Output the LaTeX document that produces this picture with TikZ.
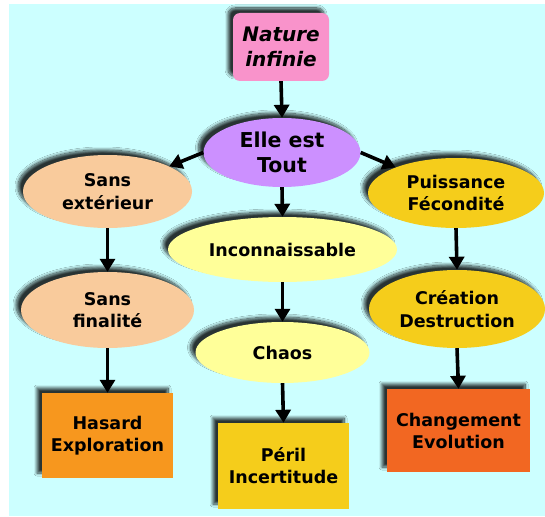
\documentclass[tikz,border=0pt]{standalone}
\usepackage{fontspec}
\setmainfont{DejaVu Sans}
\usetikzlibrary{shapes.geometric,arrows.meta,shadows,shadows.blur}
\definecolor{bgcyan}{HTML}{CCFFFF}
\definecolor{pinkc}{HTML}{F993CB}
\definecolor{lilac}{HTML}{CC90FF}
\definecolor{peach}{HTML}{F9CB9C}
\definecolor{gold}{HTML}{F5CD1B}
\definecolor{paleyel}{HTML}{FFFF99}
\definecolor{orangec}{HTML}{F7971E}
\definecolor{redor}{HTML}{F26722}
\tikzset{
  shad/.style={blur shadow={shadow xshift=-5pt,shadow yshift=5pt,shadow blur radius=3pt,shadow blur steps=12,shadow opacity=80}},
  ell/.style={ellipse,shad,inner sep=0pt,align=center,font=\fontsize{17.5}{22.5}\selectfont\bfseries},
  boxn/.style={rectangle,shad,inner sep=0pt,align=center,font=\fontsize{17.5}{22}\selectfont\bfseries},
  arr/.style={line width=3.6pt,-{Triangle[length=13pt,width=15pt]}}
}
\begin{document}
\begin{tikzpicture}[x=1pt,y=-1pt]
\useasboundingbox (0,0) rectangle (545,516);
\fill[bgcyan] (9,4) rectangle (545,516);
\node[boxn,rounded corners=7pt,fill=pinkc,minimum width=96pt,minimum height=68pt,font=\fontsize{20}{25}\selectfont\bfseries\itshape] (nat) at (281,47) {Nature\\infinie};
\node[ell,fill=lilac,minimum width=157pt,minimum height=69pt,font=\fontsize{20.5}{24.5}\selectfont\bfseries] (elle) at (282,152.5) {Elle est\\Tout};
\node[ell,fill=peach,minimum width=169pt,minimum height=73pt] (sext) at (107.5,191.5) {Sans\\extérieur};
\node[ell,fill=gold,minimum width=176pt,minimum height=70pt] (puis) at (456,193) {Puissance\\Fécondité};
\node[ell,fill=paleyel,minimum width=229pt,minimum height=65pt] (inc) at (282.5,249.5) {Inconnaissable};
\node[ell,fill=peach,minimum width=173pt,minimum height=76pt] (sfin) at (107.5,310) {Sans\\finalité};
\node[ell,fill=gold,minimum width=176pt,minimum height=78pt] (crea) at (457,309) {Création\\Destruction};
\node[ell,fill=paleyel,minimum width=174pt,minimum height=61pt] (chaos) at (282.5,352.5) {Chaos};
\node[boxn,fill=orangec,minimum width=131pt,minimum height=85pt] (has) at (107.5,435.5) {Hasard\\Exploration};
\node[boxn,fill=gold,minimum width=131pt,minimum height=86pt] (peril) at (283.5,466) {Péril\\Incertitude};
\node[boxn,fill=redor,minimum width=143pt,minimum height=83pt] (chg) at (458.5,430.5) {Changement\\Evolution};
\draw[arr] (nat.south) -- (elle.north);
\draw[arr] (elle.west) -- (sext);
\draw[arr] (elle.east) -- (puis);
\draw[arr] (elle.south) -- (inc.north);
\draw[arr] (sext.south) -- (sfin.north);
\draw[arr] (sfin.south) -- (has.north);
\draw[arr] (inc.south) -- (chaos.north);
\draw[arr] (chaos.south) -- (peril.north);
\draw[arr] (puis.south) -- (crea.north);
\draw[arr] (crea.south) -- (chg.north);
\end{tikzpicture}
\end{document}
